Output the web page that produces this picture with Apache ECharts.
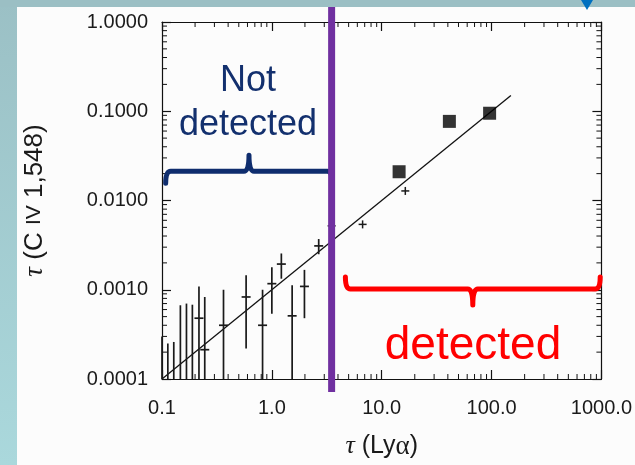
<!DOCTYPE html>
<html>
<head>
<meta charset="utf-8">
<script src="https://cdn.jsdelivr.net/npm/echarts@6/dist/echarts.min.js"></script>
<style>
html,body{margin:0;padding:0;background:#fcfcfc;}
#chart{width:635px;height:465px;}
</style>
</head>
<body>
<div id="chart"></div>
<script>
// ---- data ----
const xTickLabels = ['0.1', '1.0', '10.0', '100.0', '1000.0'];
const yTickLabels = ['0.0001', '0.0010', '0.0100', '0.1000', '1.0000'];
const minorMultipliers = [2, 3, 4, 5, 6, 7, 8, 9];
const xDecades = [0.1, 1, 10, 100];
const yDecades = [0.0001, 0.001, 0.01, 0.1];

// points with error bars (low side clipped at the axis where they run off it)
const errX    = [0.1, 0.113, 0.128, 0.147, 0.167, 0.189, 0.217, 0.245, 0.363, 0.583, 0.823, 1.0, 1.22, 1.53, 1.98, 2.67];
const errMid  = [null, null, null, null, null, null, 0.00048, 0.000213, 0.0004, 0.00083, 0.0004, 0.00117, 0.00194, 0.00051, 0.00109, 0.0031];
const errLow  = [0.0001, 0.0001, 0.0001, 0.0001, 0.0001, 0.0001, 0.0001, 0.0001, 0.0001, 0.00022, 0.0001, 0.00054, 0.00133, 0.0001, 0.00048, 0.0025];
const errHigh = [0.0003, 0.00025, 0.00026, 0.00067, 0.0007, 0.00068, 0.00109, 0.00083, 0.001, 0.00145, 0.001, 0.00179, 0.00255, 0.00112, 0.00167, 0.0037];

// plain crosses
const crossX = [3.5, 6.7, 16.4];
const crossY = [0.0052, 0.0054, 0.0128];

// filled squares
const squareX = [14.4, 41.3, 96];
const squareY = [0.021, 0.077, 0.095];

// fitted line
const fitX = [0.1, 150];
const fitY = [0.0001, 0.15];

// divider and braces
const dividerX = 3.5;
const braceX1 = [0.108, 4.67];
const braceX2 = [3.55, 975];
const braceY = [0.0212, 0.00102];
const braceDir = [1, -1];          // 1: hooks down / spike up, -1: hooks up / spike down
const braceColors = ['#0F2D6E', '#FF0000'];

const notDetectedLines = ['Not', 'detected'];
const detectedLabel = 'detected';

// ---- chart ----
const chart = echarts.init(document.getElementById('chart'), null, {renderer: 'canvas'});

const errData = errX.map((x, i) => [x, errLow[i], errHigh[i], errMid[i] == null ? '-' : errMid[i]]);
const crossData = crossX.map((x, i) => [x, crossY[i]]);
const squareData = squareX.map((x, i) => [x, squareY[i]]);
const fitData = fitX.map((x, i) => [x, fitY[i]]);
const xMinor = [];
xDecades.forEach(d => minorMultipliers.forEach(m => xMinor.push([d * m, 0.001])));
const yMinor = [];
yDecades.forEach(d => minorMultipliers.forEach(m => yMinor.push([1, d * m])));
const braceData = braceX1.map((x, i) => [x, braceX2[i], braceY[i], braceDir[i]]);

const labelFont = {fontFamily: 'Liberation Sans', fontSize: 20, color: '#1a1a1a'};
const ink = '#111';

function axisCommon(extra) {
  return Object.assign({
    type: 'log', logBase: 10,
    axisLine: {show: true, lineStyle: {color: ink, width: 1.2}},
    axisTick: {show: true, inside: true, length: 9, lineStyle: {color: ink, width: 1.2}},
    splitLine: {show: false},
    minorTick: {show: false}
  }, extra);
}

const option = {
  animation: false,
  backgroundColor: '#fcfcfc',
  grid: {left: 162, top: 22, width: 443, height: 362, containLabel: false},
  graphic: [
    {type: 'rect', z: -10, shape: {x: 0, y: 0, width: 17, height: 465},
     style: {fill: new echarts.graphic.LinearGradient(0, 0, 0, 1, [{offset: 0, color: '#9BC0C5'}, {offset: 1, color: '#AAD8DC'}])}},
    {type: 'rect', z: -10, shape: {x: 0, y: 0, width: 635, height: 7}, style: {fill: '#9BBFC4'}},
    {type: 'polygon', z: -9, shape: {points: [[581, 0], [593, 0], [587, 10]]}, style: {fill: '#0070C0'}},
    {type: 'text', z: 50, x: 248, y: 81,
     style: {text: notDetectedLines[0], fontFamily: 'Liberation Sans', fontSize: 36, fill: '#13306E', align: 'center', verticalAlign: 'middle'}},
    {type: 'text', z: 50, x: 248, y: 125,
     style: {text: notDetectedLines[1], fontFamily: 'Liberation Sans', fontSize: 36, fill: '#13306E', align: 'center', verticalAlign: 'middle'}},
    {type: 'text', z: 50, x: 473, y: 346,
     style: {text: detectedLabel, fontFamily: 'Liberation Sans', fontSize: 46, fill: '#FF0000', align: 'center', verticalAlign: 'middle'}}
  ],
  xAxis: [
    axisCommon({position: 'bottom', min: 0.1, max: 1000,
      name: '{t|τ}{a| (Ly}{g|α}{a|)}', nameLocation: 'middle', nameGap: 54,
      nameTextStyle: {rich: {
        t: {fontFamily: 'Liberation Serif', fontStyle: 'italic', fontSize: 26, color: '#1a1a1a'},
        a: {fontFamily: 'Liberation Sans', fontSize: 25, color: '#1a1a1a'},
        g: {fontFamily: 'Liberation Serif', fontSize: 27, color: '#1a1a1a'}
      }},
      axisLabel: Object.assign({margin: 19, formatter: (v, i) => xTickLabels[i]}, labelFont)}),
    axisCommon({position: 'top', min: 0.1, max: 1000, axisLabel: {show: false}})
  ],
  yAxis: [
    axisCommon({position: 'left', min: 0.0001, max: 1,
      name: '{t|τ}{a| (C }{s|IV}{a| 1,548)}', nameLocation: 'middle', nameGap: 114, nameRotate: 90,
      nameTextStyle: {rich: {
        t: {fontFamily: 'Liberation Serif', fontStyle: 'italic', fontSize: 27, color: '#1a1a1a'},
        a: {fontFamily: 'Liberation Sans', fontSize: 26, color: '#1a1a1a'},
        s: {fontFamily: 'Liberation Sans', fontSize: 21, color: '#1a1a1a'}
      }},
      axisLabel: Object.assign({margin: 14, formatter: (v, i) => yTickLabels[i]}, labelFont)}),
    axisCommon({position: 'right', min: 0.0001, max: 1, axisLabel: {show: false}})
  ],
  series: [
    {
      type: 'custom', name: 'xMinorTicks', data: xMinor, clip: false, silent: true, z: 3,
      encode: {x: 0, y: 1},
      renderItem: function (params, api) {
        const cs = params.coordSys;
        const px = api.coord([api.value(0), api.value(1)])[0];
        const st = {stroke: ink, lineWidth: 1};
        return {type: 'group', children: [
          {type: 'line', shape: {x1: px, y1: cs.y + cs.height, x2: px, y2: cs.y + cs.height - 5}, style: st},
          {type: 'line', shape: {x1: px, y1: cs.y, x2: px, y2: cs.y + 5}, style: st}
        ]};
      }
    },
    {
      type: 'custom', name: 'yMinorTicks', data: yMinor, clip: false, silent: true, z: 3,
      encode: {x: 0, y: 1},
      renderItem: function (params, api) {
        const cs = params.coordSys;
        const py = api.coord([api.value(0), api.value(1)])[1];
        const st = {stroke: ink, lineWidth: 1};
        return {type: 'group', children: [
          {type: 'line', shape: {x1: cs.x, y1: py, x2: cs.x + 5, y2: py}, style: st},
          {type: 'line', shape: {x1: cs.x + cs.width, y1: py, x2: cs.x + cs.width - 5, y2: py}, style: st}
        ]};
      }
    },
    {
      type: 'line', name: 'fit', data: fitData, symbol: 'none', z: 4,
      lineStyle: {color: ink, width: 1.3}
    },
    {
      type: 'custom', name: 'errorbars', data: errData, clip: false, z: 5,
      encode: {x: 0, y: [1, 2]},
      renderItem: function (params, api) {
        const x = api.value(0);
        const lo = api.coord([x, api.value(1)]);
        const hi = api.coord([x, api.value(2)]);
        const mid = api.value(3);
        const st = {stroke: '#1a1a1a', lineWidth: 1.7};
        const children = [{type: 'line', shape: {x1: lo[0], y1: lo[1], x2: hi[0], y2: hi[1]}, style: st}];
        if (!isNaN(mid)) {
          const m = api.coord([x, mid]);
          children.push({type: 'line', shape: {x1: m[0] - 4.5, y1: m[1], x2: m[0] + 4.5, y2: m[1]}, style: st});
        }
        return {type: 'group', children: children};
      }
    },
    {
      type: 'custom', name: 'crosses', data: crossData, clip: false, z: 5,
      encode: {x: 0, y: 1},
      renderItem: function (params, api) {
        const p = api.coord([api.value(0), api.value(1)]);
        const st = {stroke: '#1a1a1a', lineWidth: 1.5};
        return {type: 'group', children: [
          {type: 'line', shape: {x1: p[0] - 4, y1: p[1], x2: p[0] + 4, y2: p[1]}, style: st},
          {type: 'line', shape: {x1: p[0], y1: p[1] - 4, x2: p[0], y2: p[1] + 4}, style: st}
        ]};
      }
    },
    {
      type: 'scatter', name: 'squares', data: squareData, symbol: 'rect', symbolSize: 13, z: 6,
      itemStyle: {color: '#000'}
    },
    {
      type: 'custom', name: 'braces', data: braceData, clip: false, z: 8,
      encode: {x: [0, 1], y: 2},
      renderItem: function (params, api) {
        const y = api.value(2);
        const dir = api.value(3);
        const a = api.coord([api.value(0), y]);
        const b = api.coord([api.value(1), y]);
        const m = api.coord([Math.sqrt(api.value(0) * api.value(1)), y]);
        const yy = a[1];
        const hook = 12 * dir, spike = -16 * dir, r = 5;
        const d = 'M' + a[0] + ' ' + (yy + hook) +
          ' Q' + a[0] + ' ' + yy + ' ' + (a[0] + r) + ' ' + yy +
          ' L' + (m[0] - r) + ' ' + yy +
          ' Q' + m[0] + ' ' + yy + ' ' + m[0] + ' ' + (yy + spike) +
          ' Q' + m[0] + ' ' + yy + ' ' + (m[0] + r) + ' ' + yy +
          ' L' + (b[0] - r) + ' ' + yy +
          ' Q' + b[0] + ' ' + yy + ' ' + b[0] + ' ' + (yy + hook);
        return {type: 'path', shape: {pathData: d},
          style: {fill: 'none', stroke: braceColors[params.dataIndex], lineWidth: 5, lineCap: 'round', lineJoin: 'round'}};
      }
    },
    {
      type: 'custom', name: 'divider', data: [[dividerX, 0.001]], clip: false, z: 10,
      encode: {x: 0, y: 1},
      renderItem: function (params, api) {
        const cs = params.coordSys;
        const px = api.coord([api.value(0), api.value(1)])[0];
        return {type: 'rect', shape: {x: px - 3.5, y: cs.y - 15, width: 7, height: cs.height + 28},
          style: {fill: '#7030A0'}};
      }
    }
  ]
};
chart.setOption(option);
</script>
</body>
</html>
